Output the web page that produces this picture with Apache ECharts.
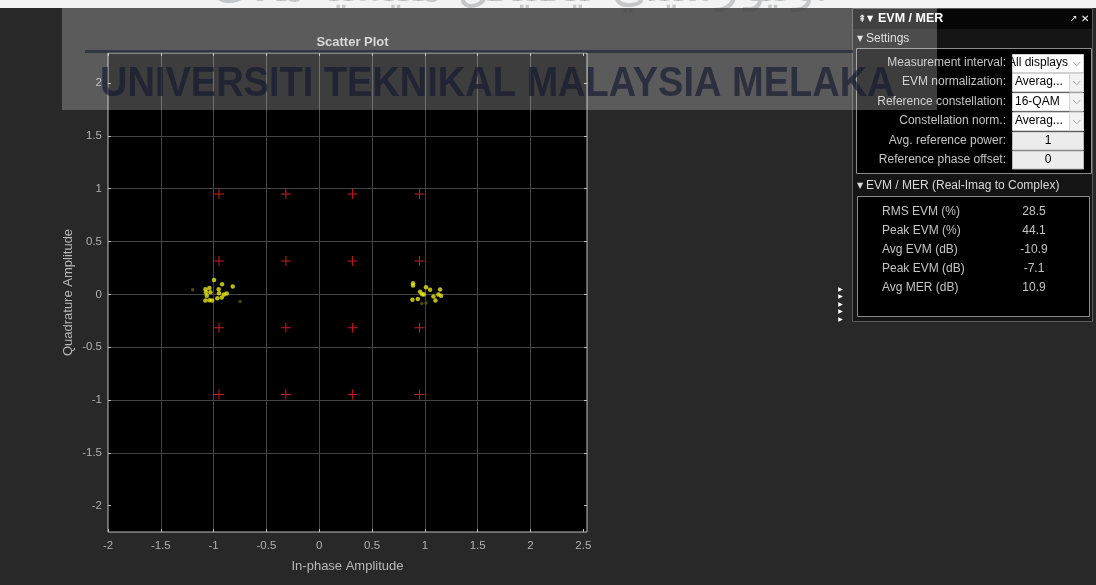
<!DOCTYPE html>
<html>
<head>
<meta charset="utf-8">
<title>Scatter Plot - EVM / MER</title>
<script src="https://cdn.jsdelivr.net/npm/echarts@6/dist/echarts.min.js"></script>
<style>
  html, body { margin: 0; padding: 0; background: #282828; }
  #chart { width: 1096px; height: 585px; }
</style>
</head>
<body>
<div id="chart"></div>
<script>
// Axis ticks
const xTicks = [-2, -1.5, -1, -0.5, 0, 0.5, 1, 1.5, 2, 2.5];
const yTicks = [-2, -1.5, -1, -0.5, 0, 0.5, 1, 1.5, 2];

// 16-QAM reference constellation (average power 1)
const refPoints = [
  [-0.949, 0.949], [-0.316, 0.949], [0.316, 0.949], [0.949, 0.949],
  [-0.949, 0.316], [-0.316, 0.316], [0.316, 0.316], [0.949, 0.316],
  [-0.949, -0.316], [-0.316, -0.316], [0.316, -0.316], [0.949, -0.316],
  [-0.949, -0.949], [-0.316, -0.949], [0.316, -0.949], [0.949, -0.949]
];

// Received symbols (current frame)
const rxCurrent = [
  [-0.996, 0.137], [-0.920, 0.096], [-0.819, 0.074], [-1.077, 0.049], [-1.040, 0.059],
  [-1.072, 0.021], [-1.031, 0.021], [-0.952, 0.049], [-0.949, 0.011], [-0.902, -0.002],
  [-0.876, 0.008], [-1.065, -0.014], [-0.965, -0.036], [-0.923, -0.030], [-1.078, -0.059],
  [-1.040, -0.055], [-1.015, -0.059],
  [0.888, 0.106], [0.888, 0.083], [1.011, 0.068], [1.049, 0.043], [1.144, 0.045],
  [0.955, 0.024], [0.990, -0.002], [0.974, 0.002], [1.081, -0.021], [1.128, -0.002],
  [1.153, -0.014], [0.882, -0.052], [0.933, -0.045], [1.100, -0.059]
];

// Received symbols (older, faded)
const rxFaded = [
  [-1.198, 0.043], [-0.750, -0.068], [0.971, -0.087], [1.011, -0.081]
];

// EVM / MER panel contents
const settingLabels = [
  'Measurement interval:', 'EVM normalization:', 'Reference constellation:',
  'Constellation norm.:', 'Avg. reference power:', 'Reference phase offset:'
];
const settingValues = ['All displays', 'Averag...', '16-QAM', 'Averag...', '1', '0'];
const resultLabels = ['RMS EVM (%)', 'Peak EVM (%)', 'Avg EVM (dB)', 'Peak EVM (dB)', 'Avg MER (dB)'];
const resultValues = ['28.5', '44.1', '-10.9', '-7.1', '10.9'];

const UI_FONT = '"Liberation Sans", Arial, sans-serif';
const LABEL_COLOR = '#c4c4c4';
const GRID_COLOR = '#444444';
const BOX_COLOR = '#bdbdbd';

function txt(text, x, y, opts) {
  opts = opts || {};
  return {
    type: 'text', x: x, y: y, z: opts.z || 50, silent: true,
    style: {
      text: text,
      fill: opts.fill || LABEL_COLOR,
      font: opts.font || ('12px ' + UI_FONT),
      textAlign: opts.align || 'left',
      textVerticalAlign: opts.valign || 'middle'
    }
  };
}
function box(x, y, w, h, fill, stroke, z) {
  return {
    type: 'rect', z: z || 50, silent: true,
    shape: { x: x, y: y, width: w, height: h },
    style: { fill: fill, stroke: stroke || null, lineWidth: stroke ? 1 : 0 }
  };
}

// Measurement panel
const panel = [];
panel.push(box(852.5, 8.5, 240, 313, '#151515', '#5a5a5a'));
panel.push(box(853, 9, 239, 20, '#060606'));
panel.push(txt('⇞', 858, 19, { fill: '#ffffff', font: '10px "DejaVu Sans"' }));
panel.push(txt('▼', 867, 19, { fill: '#ffffff', font: '8px "DejaVu Sans"' }));
panel.push(txt('EVM / MER', 878, 19, { fill: '#ffffff', font: 'bold 12.5px ' + UI_FONT }));
panel.push(txt('↗', 1070, 19, { fill: '#ffffff', font: '9px "DejaVu Sans"' }));
panel.push(txt('✕', 1081, 19, { fill: '#ffffff', font: '10px "DejaVu Sans"' }));
panel.push(txt('▼', 857, 38.5, { fill: '#d8d8d8', font: '8px "DejaVu Sans"' }));
panel.push(txt('Settings', 866, 38.5, { fill: '#d8d8d8' }));
panel.push(box(856.5, 48.5, 235, 125, '#000000', '#8a8a8a'));

const rowTop = [54, 73, 92.5, 112, 131.5, 150.5];
settingLabels.forEach(function (label, i) {
  const cy = rowTop[i] + 9;
  panel.push(txt(label, 1006, cy, { align: 'right' }));
  if (i < 4) {
    panel.push(box(1012.5, rowTop[i] + 0.5, 71, 18, '#ffffff', '#d0d0d0', 51));
    if (i > 0) panel.push(box(1069.5, rowTop[i] + 0.5, 14, 18, '#f2f2f2', '#d6d6d6', 52));
    panel.push(txt(settingValues[i], i === 0 ? 1008 : 1015, cy, { fill: '#000000', z: 53 }));
    panel.push(txt('⌵', 1076.5, cy, { fill: '#7a7a7a', font: '10px "DejaVu Sans"', align: 'center', z: 54 }));
  } else {
    panel.push(box(1012.5, rowTop[i] + 0.5, 71, 18, '#ececec', '#b8b8b8', 51));
    panel.push(txt(settingValues[i], 1048, cy, { fill: '#000000', align: 'center', z: 53 }));
  }
});
// clip the first dropdown text at its left edge
panel.push(box(1007.5, 54, 4.5, 19, '#000000', null, 55));

panel.push(txt('▼', 857, 186, { fill: '#d8d8d8', font: '8px "DejaVu Sans"' }));
panel.push(txt('EVM / MER (Real-Imag to Complex)', 866, 186, { fill: '#d8d8d8' }));
panel.push(box(857.5, 196.5, 232, 120, '#000000', '#8a8a8a'));
resultLabels.forEach(function (label, i) {
  const cy = 212 + i * 19;
  panel.push(txt(label, 882, cy));
  panel.push(txt(resultValues[i], 1034, cy, { align: 'center' }));
});
// collapsed-column markers
for (let i = 0; i < 5; i++) {
  panel.push(txt('▶', 840.5, 289 + i * 7.5, { fill: '#ffffff', font: '6px "DejaVu Sans"', align: 'center' }));
}

// Watermark
const watermark = [
  box(0, 0, 1096, 8, '#f3f3f3', null, 90),
  box(62, 8, 875, 102, 'rgba(255,255,255,0.24)', null, 100),
  {
    type: 'rect', z: 101, silent: true,
    shape: { x: 85, y: 50, width: 768, height: 3 },
    style: { fill: 'rgba(18,24,48,0.55)' }
  },
  txt('اونيۏرسيتي تيكنيكل مليسيا ملاک', 520, 12, {
    fill: 'rgba(60,62,72,0.25)', font: '46px "DejaVu Sans"', align: 'center', valign: 'bottom', z: 101
  }),
  {
    type: 'text', x: 100, y: 84, scaleY: 1.12, z: 102, silent: true,
    style: {
      text: 'UNIVERSITI TEKNIKAL MALAYSIA MELAKA',
      fill: 'rgba(16,22,46,0.64)', font: 'bold 38px ' + UI_FONT,
      textAlign: 'left', textVerticalAlign: 'middle'
    }
  }
];

const chart = echarts.init(document.getElementById('chart'), null, { renderer: 'canvas' });

const plusSymbol = 'path://M4.5,0h1v10h-1zM0,4.5h10v1h-10z';
const hiddenLine = { show: false, onZero: false };

chart.setOption({
  backgroundColor: '#282828',
  animation: false,
  title: {
    text: 'Scatter Plot',
    left: 347.5, top: 31, textAlign: 'center',
    textStyle: { color: '#cccccc', fontSize: 13, fontWeight: 'bold', fontFamily: UI_FONT }
  },
  grid: {
    left: 108, top: 53, width: 479, height: 479,
    show: true, backgroundColor: '#000000', borderColor: BOX_COLOR, borderWidth: 1
  },
  xAxis: [{
    type: 'value', min: -2, max: 2.535, position: 'bottom',
    name: 'In-phase Amplitude', nameLocation: 'middle', nameGap: 28,
    nameTextStyle: { color: '#b8b8b8', fontSize: 13, fontFamily: UI_FONT },
    axisLine: hiddenLine,
    axisTick: { show: true, inside: true, length: 3, customValues: xTicks, lineStyle: { color: BOX_COLOR } },
    axisLabel: { customValues: xTicks, color: '#b0b0b0', fontSize: 11.5, fontFamily: UI_FONT, margin: 8 },
    splitLine: { show: true, showMinLine: false, showMaxLine: false, lineStyle: { color: GRID_COLOR, width: 1 } }
  }, {
    type: 'value', min: -2, max: 2.535, position: 'top',
    axisLine: hiddenLine,
    axisTick: { show: true, inside: true, length: 3, customValues: xTicks, lineStyle: { color: BOX_COLOR } },
    axisLabel: { show: false },
    splitLine: { show: false }
  }],
  yAxis: [{
    type: 'value', min: -2.25, max: 2.285, position: 'left',
    name: 'Quadrature Amplitude', nameLocation: 'middle', nameGap: 33,
    nameTextStyle: { color: '#b8b8b8', fontSize: 13, fontFamily: UI_FONT },
    axisLine: hiddenLine,
    axisTick: { show: true, inside: true, length: 3, customValues: yTicks, lineStyle: { color: BOX_COLOR } },
    axisLabel: { customValues: yTicks, color: '#b0b0b0', fontSize: 11.5, fontFamily: UI_FONT, margin: 6 },
    splitLine: { show: true, showMinLine: false, showMaxLine: false, lineStyle: { color: GRID_COLOR, width: 1 } }
  }, {
    type: 'value', min: -2.25, max: 2.285, position: 'right',
    axisLine: hiddenLine,
    axisTick: { show: true, inside: true, length: 3, customValues: yTicks, lineStyle: { color: BOX_COLOR } },
    axisLabel: { show: false },
    splitLine: { show: false }
  }],
  series: [
    {
      name: 'Reference', type: 'scatter', data: refPoints,
      symbol: plusSymbol, symbolSize: 10,
      itemStyle: { color: '#ff2020' }, z: 3
    },
    {
      name: 'Faded', type: 'scatter', data: rxFaded,
      symbol: 'circle', symbolSize: 3.5,
      itemStyle: { color: '#5e5e08' }, z: 4
    },
    {
      name: 'Received', type: 'scatter', data: rxCurrent,
      symbol: 'circle', symbolSize: 4.5,
      itemStyle: { color: '#e8e812' }, z: 5
    }
  ],
  graphic: panel.concat(watermark)
});
</script>
</body>
</html>
